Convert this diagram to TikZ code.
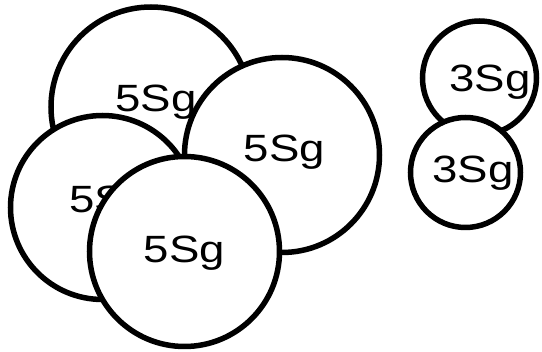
\documentclass[tikz,border=0pt]{standalone}
\usepackage{fontspec}
\newfontfamily\ballfont[FakeStretch=1.2]{Liberation Sans}
\tikzset{ball/.style={circle,draw,fill=white,line width=5.5pt,inner sep=0pt},
  tag/.style={anchor=base,inner sep=0pt,font=\ballfont\fontsize{38}{42}\selectfont}}
\begin{document}
\begin{tikzpicture}[x=1pt,y=-1pt]
\useasboundingbox (0,0) rectangle (542,352);
% the four large ones
\node[ball,minimum size=200pt] (big1) at (151,107) {};
\node[tag] (big1-tag) at (156,112) {5Sg};
\node[ball,minimum size=195pt] (big2) at (282,155) {};
\node[tag] (big2-tag) at (284.5,162) {5Sg};
\node[ball,minimum size=184pt] (big3) at (102.5,207.5) {};
\node[tag] (big3-tag) at (110,213) {5Sg};
\node[ball,minimum size=190pt] (big4) at (184.5,251.5) {};
\node[tag] (big4-tag) at (184.5,263) {5Sg};
% the two small ones
\node[ball,minimum size=114pt] (small1) at (479.5,78) {};
\node[tag] (small1-tag) at (490,92) {3Sg};
\node[ball,minimum size=110pt] (small2) at (465.5,172.5) {};
\node[tag] (small2-tag) at (473,183) {3Sg};
\end{tikzpicture}
\end{document}
